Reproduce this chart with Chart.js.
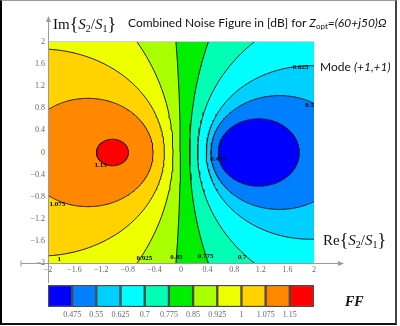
<!DOCTYPE html>
<html>
<head>
<meta charset="utf-8">
<script src="https://cdn.jsdelivr.net/npm/chart.js@4.4.0/dist/chart.umd.min.js"></script>
<style>
  html, body { margin: 0; padding: 0; background: #fff; }
  #wrap { position: relative; width: 400px; height: 326px; overflow: hidden; }
  canvas { position: absolute; left: 0; }
  #plot { top: 0; }
  #bar { top: 280px; }
  .frame { position: absolute; left: 0; top: 0; width: 397px; height: 325px; box-sizing: border-box;
    border-left: 2px solid #000; border-top: 1px solid #999; border-right: 2px solid #444; border-bottom: 2px solid #111; }
  .txt { position: absolute; white-space: nowrap; color: #111; line-height: 1; }
  .serif { font-family: 'Liberation Serif', serif; font-size: 15px; }
  .serif sub { font-size: 10px; vertical-align: -3px; line-height: 0; }
  .br { font-size: 18px; position: relative; top: 1px; }
  .sans { font-family: 'Lato', sans-serif; font-size: 12px; }
  .sans sub { font-size: 8px; vertical-align: -2px; line-height: 0; }
  .ff { font-family: 'Liberation Serif', serif; font-size: 14px; font-weight: bold; font-style: italic; }
</style>
</head>
<body>
<div id="wrap">
  <canvas id="plot" width="400" height="326"></canvas>
  <canvas id="bar" width="400" height="46"></canvas>
  <div class="txt serif" style="left:53px; top:14px;">Im<span class="br">{</span><i>S</i><sub>2</sub>/<i>S</i><sub>1</sub><span class="br">}</span></div>
  <div class="txt sans" style="left:128px; top:17px;">Combined Noise Figure in [dB] for <i>Z</i><sub>opt</sub><i>=(60+j50)Ω</i></div>
  <div class="txt sans" style="left:320px; top:61px;">Mode <i>(+1,+1)</i></div>
  <div class="txt serif" style="left:323px; top:230px;">Re<span class="br">{</span><i>S</i><sub>2</sub>/<i>S</i><sub>1</sub><span class="br">}</span></div>
  <div class="txt ff" style="left:345px; top:295px;">FF</div>
  <div class="frame"></div>
</div>
<script>
// contour levels of the combined noise figure and the colour of each band
const levels = [0.475, 0.55, 0.625, 0.7, 0.775, 0.85, 0.925, 1, 1.075, 1.15];
const bandColors = ['#0000ff', '#0080ff', '#00d0ff', '#00ffff', '#00ffb4', '#00ee00',
                    '#aaff00', '#eeff00', '#ffd200', '#ff8800', '#ff0000'];

const contourCx = [1.17, 1.48, 1.95, 3.03, 7.41, -30.81, -4.09, -2.124, -1.4, -1.03];
const contourR  = [0.61, 1.03, 1.57, 2.78, 7.28, 30.8, 3.97, 1.874, 0.98, 0.24];

// inline labels sitting on the contours
const labelText = ['0.475', '0.55', '0.625', '0.7', '0.775', '0.85', '0.925', '1', '1.075', '1.15'];
const labelX = [0.56, 1.96, 1.80, 0.92, 0.37, -0.07, -0.55, -1.83, -1.86, -1.21];
const labelY = [-0.12, 0.86, 1.54, -1.9, -1.87, -1.89, -1.91, -1.93, -0.93, -0.23];

// axis ticks (same on both axes)
const axisTicks = [-2, -1.6, -1.2, -0.8, -0.4, 0, 0.4, 0.8, 1.2, 1.6, 2];

const tickFont = { family: "'Liberation Serif', serif", size: 8 };
const fmt = v => (v < 0 ? '\u2212' : '') + Math.abs(Math.round(v * 10) / 10);

// sample a contour circle as a closed polyline in data units
function contourPoints(i) {
  const pts = [];
  const n = 360;
  for (let k = 0; k <= n; k++) {
    const a = 2 * Math.PI * k / n;
    pts.push({ x: contourCx[i] + contourR[i] * Math.cos(a), y: contourR[i] * Math.sin(a) });
  }
  return pts;
}

// left family (high values) then right family (low values), outer to inner
const drawSeq = [5, 6, 7, 8, 9, 4, 3, 2, 1, 0];
const datasets = drawSeq.map((i, s) => ({
  data: contourPoints(i),
  showLine: true,
  fill: 'shape',
  backgroundColor: i >= 5 ? bandColors[i + 1] : bandColors[i],
  borderColor: '#1a1a1a',
  borderWidth: 1,
  pointRadius: 0,
  tension: 0,
  order: 20 - s
}));

const plotDecor = {
  id: 'plotDecor',
  beforeDatasetsDraw(chart) {
    const { ctx, chartArea: a } = chart;
    ctx.save();
    ctx.fillStyle = bandColors[5];
    ctx.fillRect(a.left, a.top, a.right - a.left, a.bottom - a.top);
    ctx.restore();
  },
  afterDatasetsDraw(chart) {
    const { ctx, chartArea: a, scales: { x, y } } = chart;
    // contour labels
    ctx.save();
    ctx.beginPath();
    ctx.rect(a.left, a.top, a.right - a.left, a.bottom - a.top);
    ctx.clip();
    ctx.font = "bold 7px 'Liberation Serif', serif";
    ctx.fillStyle = '#000';
    ctx.textAlign = 'center';
    ctx.textBaseline = 'middle';
    labelText.forEach((t, i) => {
      ctx.fillText(t, x.getPixelForValue(labelX[i]), y.getPixelForValue(labelY[i]));
    });
    ctx.restore();

    // plot top edge
    ctx.save();
    ctx.strokeStyle = '#cfcfcf';
    ctx.lineWidth = 1;
    ctx.beginPath();
    ctx.moveTo(a.left, a.top - 0.5);
    ctx.lineTo(a.right, a.top - 0.5);
    ctx.stroke();

    // axes with arrows
    const x0 = Math.round(x.getPixelForValue(-2)) + 0.5;
    const y0 = Math.round(y.getPixelForValue(-2)) + 0.5;
    ctx.strokeStyle = '#9a9a9a';
    ctx.fillStyle = '#9a9a9a';
    ctx.beginPath();
    ctx.moveTo(a.left - 27, y0);
    ctx.lineTo(a.right + 27, y0);
    ctx.moveTo(a.left - 27, y0 - 3);
    ctx.lineTo(a.left - 27, y0 + 3);
    ctx.moveTo(x0, a.bottom + 20);
    ctx.lineTo(x0, a.top - 24);
    ctx.stroke();
    ctx.beginPath();
    ctx.moveTo(a.right + 30, y0);
    ctx.lineTo(a.right + 24, y0 - 2.5);
    ctx.lineTo(a.right + 24, y0 + 2.5);
    ctx.closePath();
    ctx.moveTo(x0, a.top - 26);
    ctx.lineTo(x0 - 2.5, a.top - 20);
    ctx.lineTo(x0 + 2.5, a.top - 20);
    ctx.closePath();
    ctx.fill();
    ctx.restore();
  }
};

new Chart(document.getElementById('plot'), {
  type: 'scatter',
  data: { datasets },
  options: {
    responsive: false,
    animation: false,
    events: [],
    layout: { padding: { left: 0, top: 42, right: 86, bottom: 43 } },
    plugins: { legend: { display: false }, tooltip: { enabled: false } },
    scales: {
      x: {
        type: 'linear', min: -2, max: 2,
        afterBuildTicks: s => { s.ticks = axisTicks.map(v => ({ value: v })); },
        afterFit: s => { s.height = 20; },
        ticks: { callback: fmt, font: tickFont, color: '#666', padding: 2, maxRotation: 0, autoSkip: false },
        grid: { display: false, drawTicks: false },
        border: { display: false }
      },
      y: {
        type: 'linear', min: -2, max: 2,
        afterBuildTicks: s => { s.ticks = axisTicks.map(v => ({ value: v })); },
        afterFit: s => { s.width = 48; },
        ticks: { callback: fmt, font: tickFont, color: '#666', padding: 3, autoSkip: false },
        grid: { display: false, drawTicks: false },
        border: { display: false }
      }
    }
  },
  plugins: [plotDecor]
});

// colour bar
new Chart(document.getElementById('bar'), {
  type: 'bar',
  data: {
    labels: ['FF'],
    datasets: bandColors.map(c => ({
      data: [1],
      backgroundColor: c,
      borderColor: '#4a4a4a',
      borderWidth: 1.5,
      borderSkipped: false,
      categoryPercentage: 1,
      barPercentage: 1
    }))
  },
  options: {
    indexAxis: 'y',
    responsive: false,
    animation: false,
    events: [],
    layout: { padding: { left: 48, right: 86, top: 5, bottom: 0 } },
    plugins: { legend: { display: false }, tooltip: { enabled: false } },
    scales: {
      x: {
        type: 'linear', stacked: true, min: 0, max: bandColors.length,
        afterBuildTicks: s => { s.ticks = levels.map((v, i) => ({ value: i + 1 })); },
        afterFit: s => { s.height = 19; },
        ticks: { callback: (v, i) => String(levels[i]), font: tickFont, color: '#666', padding: 3, maxRotation: 0, autoSkip: false },
        grid: { display: false, drawTicks: false },
        border: { display: false }
      },
      y: { stacked: true, display: false }
    }
  }
});
</script>
</body>
</html>
